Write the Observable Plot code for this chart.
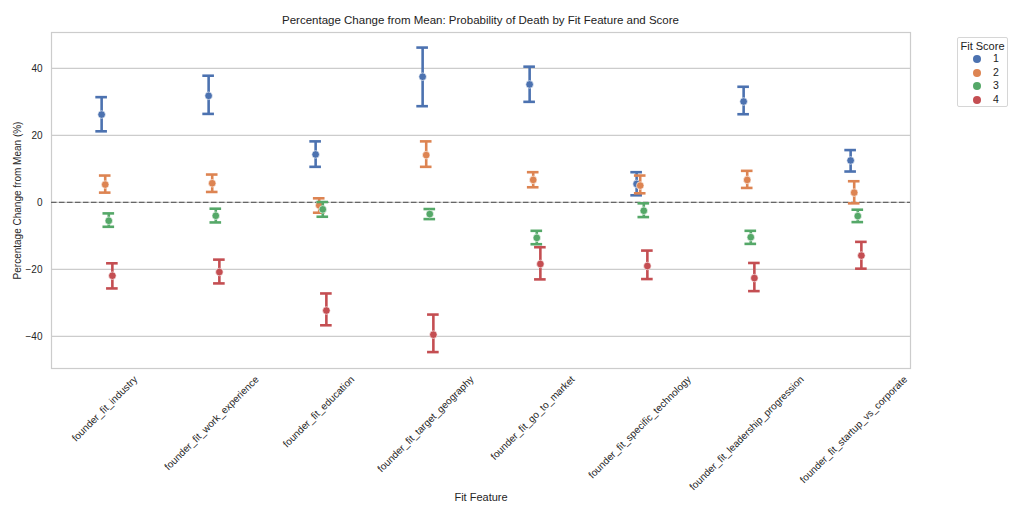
<!DOCTYPE html>
<html>
<head>
<meta charset="utf-8">
<script src="https://cdn.jsdelivr.net/npm/d3@7"></script>
<script src="https://cdn.jsdelivr.net/npm/@observablehq/plot@0.6"></script>
<style>
  html, body { margin: 0; padding: 0; background: #fff; }
  #wrap { position: relative; width: 1024px; height: 515px; font-family: "Liberation Sans", Arial, sans-serif; }
  #title { position: absolute; left: 51px; width: 859px; top: 14px; text-align: center; font-size: 11.5px; color: #222; }
  #legend { position: absolute; left: 957px; top: 37px; width: 51px; height: 70px; border: 1px solid #d6d6d6; border-radius: 2px; box-sizing: border-box; font-size: 10.5px; color: #222; }
  #legend .lt { text-align: center; margin-top: 2px; font-size: 11px; }
  #legend .row { position: relative; height: 13.5px; }
  #legend .dot { position: absolute; left: 15px; top: 3px; width: 8px; height: 8px; border-radius: 50%; }
  #legend .lab { position: absolute; left: 35px; top: 0px; }
  #chart { position: absolute; left: 0; top: 0; }
</style>
</head>
<body>
<div id="wrap">
  <div id="chart"></div>
  <div id="title"></div>
  <div id="legend"></div>
</div>
<script>
const features = [
  "founder_fit_industry",
  "founder_fit_work_experience",
  "founder_fit_education",
  "founder_fit_target_geography",
  "founder_fit_go_to_market",
  "founder_fit_specific_technology",
  "founder_fit_leadership_progression",
  "founder_fit_startup_vs_corporate"
];
const scores = [1, 2, 3, 4];
const colors = ["#4c72b0", "#dd8452", "#55a868", "#c44e52"];
const yTicks = [-40, -20, 0, 20, 40];

// mean, lower CI, upper CI for each score (rows) per feature (columns)
const mean1 = [26.2, 31.8, 14.3, 37.5, 35.2, 5.5, 30.1, 12.5];
const lo1   = [21.2, 26.4, 10.6, 28.7, 30.0, 2.1, 26.3, 9.2];
const hi1   = [31.4, 37.8, 18.2, 46.2, 40.5, 9.0, 34.5, 15.6];

const mean2 = [5.3, 5.7, -0.9, 14.1, 6.7, 5.0, 6.7, 2.9];
const lo2   = [2.9, 3.1, -3.1, 10.6, 4.5, 2.7, 4.3, -0.3];
const hi2   = [8.0, 8.3, 1.2, 18.2, 9.0, 8.0, 9.4, 6.3];

const mean3 = [-5.5, -4.0, -2.1, -3.5, -10.6, -2.5, -10.4, -4.1];
const lo3   = [-7.3, -6.0, -4.3, -5.0, -12.5, -4.4, -12.4, -5.9];
const hi3   = [-3.3, -1.9, 0.1, -2.0, -8.5, -0.3, -8.5, -2.2];

const mean4 = [-21.9, -20.8, -32.3, -39.5, -18.4, -19.0, -22.6, -15.9];
const lo4   = [-25.7, -24.2, -36.7, -44.7, -23.0, -22.9, -26.5, -19.8];
const hi4   = [-18.2, -17.1, -27.2, -33.5, -13.4, -14.4, -18.1, -11.8];

const means = [mean1, mean2, mean3, mean4];
const los = [lo1, lo2, lo3, lo4];
const his = [hi1, hi2, hi3, hi4];

const data = [];
scores.forEach((s, si) => {
  features.forEach((f, fi) => {
    data.push({feature: f, score: s, mean: means[si][fi], lo: los[si][fi], hi: his[si][fi]});
  });
});

const W = 1024, H = 515;
const mL = 51, mR = 114, mT = 32, mB = 147;
const bandW = (W - mL - mR) / features.length;
const capW = 12;
const capInset = (bandW - capW) / 2;
const dodgeStep = bandW * 0.1 / 3; // seaborn dodge = 0.025 * n hue levels
const font = "Liberation Sans, Arial, sans-serif";

// measure label widths to centre rotated tick labels under their ticks (matplotlib ha="center")
const ctx = document.createElement("canvas").getContext("2d");
ctx.font = `10px ${font}`;

const marks = [
  Plot.frame({stroke: "#cccccc", strokeWidth: 1.2}),
  Plot.gridY(yTicks, {stroke: "#cccccc", strokeOpacity: 1, strokeWidth: 1.1}),
  Plot.axisY(yTicks, {tickSize: 0, tickPadding: 9, fontSize: 10, fill: "#262626",
    label: "Percentage Change from Mean (%)", labelAnchor: "center", labelArrow: "none", labelOffset: 38}),
  Plot.axisX({ticks: [], label: "Fit Feature", labelAnchor: "center", labelArrow: "none", labelOffset: 132}),
  Plot.ruleY([0], {stroke: "#666666", strokeWidth: 1.4, strokeDasharray: "5.5,2.5"})
];

scores.forEach((s, si) => {
  const sub = data.filter(d => d.score === s);
  const dx = (si - 1.5) * dodgeStep;
  marks.push(
    Plot.ruleX(sub, {x: "feature", y1: "lo", y2: "hi", dx, stroke: colors[si], strokeWidth: 2.6}),
    Plot.tickY(sub, {x: "feature", y: "lo", dx, stroke: colors[si], strokeWidth: 2.6, insetLeft: capInset, insetRight: capInset}),
    Plot.tickY(sub, {x: "feature", y: "hi", dx, stroke: colors[si], strokeWidth: 2.6, insetLeft: capInset, insetRight: capInset}),
    Plot.dot(sub, {x: "feature", y: "mean", dx, r: 3.8, fill: colors[si], stroke: "white", strokeWidth: 0.6})
  );
});

features.forEach(f => {
  const w = ctx.measureText(f).width;
  const half = w * Math.SQRT1_2 / 2 + 3.5;
  marks.push(Plot.text([f], {
    x: d => d, frameAnchor: "bottom", dy: 8 + half, rotate: -45,
    textAnchor: "middle", fontSize: 10, fill: "#262626", text: d => d
  }));
});

const chart = Plot.plot({
  width: W, height: H,
  marginLeft: mL, marginRight: mR, marginTop: mT, marginBottom: mB,
  style: {fontFamily: font, fontSize: "11px", color: "#262626", background: "white"},
  x: {type: "band", domain: features, padding: 0, axis: null},
  y: {domain: [-49.6, 50.7], axis: null},
  marks
});
document.getElementById("chart").appendChild(chart);

document.getElementById("title").textContent = "Percentage Change from Mean: Probability of Death by Fit Feature and Score";
const leg = document.getElementById("legend");
const lt = document.createElement("div");
lt.className = "lt"; lt.textContent = "Fit Score";
leg.appendChild(lt);
scores.forEach((s, i) => {
  const row = document.createElement("div"); row.className = "row";
  const dot = document.createElement("span"); dot.className = "dot"; dot.style.background = colors[i];
  const lab = document.createElement("span"); lab.className = "lab"; lab.textContent = s;
  row.appendChild(dot); row.appendChild(lab); leg.appendChild(row);
});
</script>
</body>
</html>
